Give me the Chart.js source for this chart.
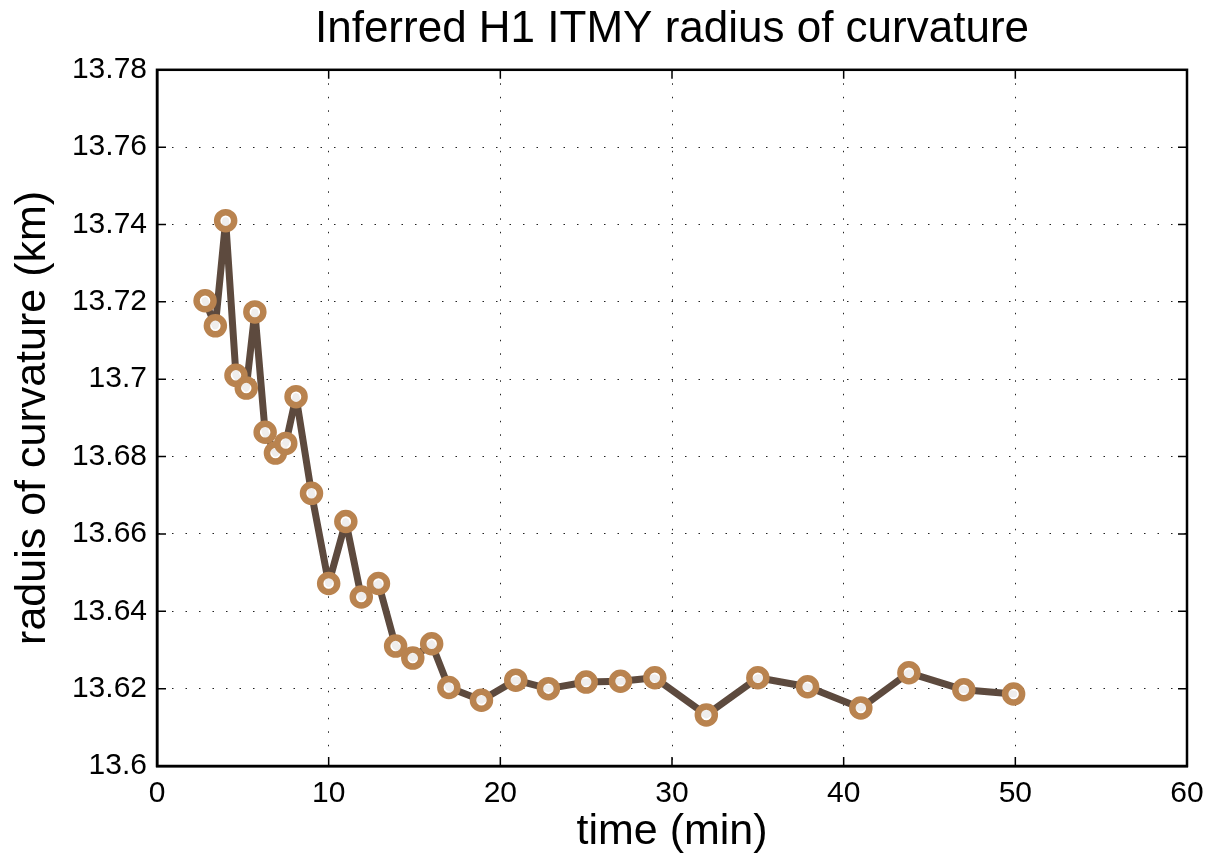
<!DOCTYPE html>
<html>
<head>
<meta charset="utf-8">
<script src="https://cdn.jsdelivr.net/npm/chart.js@4/dist/chart.umd.min.js"></script>
<style>
  html, body { margin: 0; padding: 0; background: #fff; }
  #wrap { width: 1207px; height: 860px; }
</style>
</head>
<body>
<div id="wrap"><canvas id="rocChart" width="1207" height="860"></canvas></div>
<script>
// tiempos (min) y radio de curvatura (km)
const timeMin = [2.8, 3.4, 4.0, 4.6, 5.2, 5.7, 6.3, 6.9, 7.5, 8.1, 9.0,
  10.0, 11.0, 11.9, 12.9, 13.9, 14.9, 16.0, 17.0, 18.9, 20.9, 22.8,
  25.0, 27.0, 29.0, 32.0, 35.0, 37.9, 41.0, 43.8, 47.0, 49.9];
const radiusKm = [13.7203, 13.7138, 13.7410, 13.7010, 13.6977, 13.7174, 13.6863, 13.6809, 13.6834, 13.6955, 13.6705,
  13.6472, 13.6632, 13.6437, 13.6472, 13.6310, 13.6279, 13.6316, 13.6203, 13.6170, 13.6222, 13.6200,
  13.6217, 13.6219, 13.6228, 13.6132, 13.6228, 13.6205, 13.6150, 13.6241, 13.6197, 13.6186];

const xTicks = [0, 10, 20, 30, 40, 50, 60];
const yTicks = [13.6, 13.62, 13.64, 13.66, 13.68, 13.7, 13.72, 13.74, 13.76, 13.78];

const fuente = '"Liberation Sans", Arial, Helvetica, sans-serif';

// marco completo y marcas hacia dentro (estilo matlab)
const marcoPlugin = {
  id: 'marco',
  afterDraw(chart) {
    const { ctx, chartArea: a, scales } = chart;
    ctx.save();
    ctx.strokeStyle = '#000';
    ctx.lineWidth = 1.5;
    const len = 9;
    scales.x.ticks.forEach(t => {
      const px = scales.x.getPixelForValue(t.value);
      ctx.beginPath();
      ctx.moveTo(px, a.bottom); ctx.lineTo(px, a.bottom - len);
      ctx.moveTo(px, a.top); ctx.lineTo(px, a.top + len);
      ctx.stroke();
    });
    scales.y.ticks.forEach(t => {
      const py = scales.y.getPixelForValue(t.value);
      ctx.beginPath();
      ctx.moveTo(a.left, py); ctx.lineTo(a.left + len, py);
      ctx.moveTo(a.right, py); ctx.lineTo(a.right - len, py);
      ctx.stroke();
    });
    ctx.lineWidth = 2.5;
    ctx.strokeRect(a.left, a.top, a.right - a.left, a.bottom - a.top);
    ctx.restore();
  }
};

const ctx = document.getElementById('rocChart').getContext('2d');
const chartRoc = new Chart(ctx, {
  type: 'scatter',
  data: {
    datasets: [{
      label: 'ROC',
      data: timeMin.map((t, i) => ({ x: t, y: radiusKm[i] })),
      showLine: true,
      borderColor: '#5d4a3e',
      borderWidth: 7,
      borderJoinStyle: 'round',
      borderCapStyle: 'round',
      pointRadius: 8.5,
      pointBorderWidth: 6.5,
      pointBorderColor: '#b9834f',
      pointBackgroundColor: 'rgba(255,255,255,0.9)',
      pointHoverRadius: 8.5
    }]
  },
  options: {
    responsive: false,
    animation: false,
    layout: { padding: { left: 0, right: 20, top: 0, bottom: 0 } },
    plugins: {
      legend: { display: false },
      tooltip: { enabled: false },
      title: {
        display: true,
        text: 'Inferred H1 ITMY radius of curvature',
        fullSize: false,
        color: '#000',
        font: { family: fuente, size: 44, weight: 'normal' },
        padding: { top: 3, bottom: 14 }
      }
    },
    scales: {
      x: {
        type: 'linear',
        min: 0,
        max: 60,
        afterBuildTicks: s => { s.ticks = xTicks.map(v => ({ value: v })); },
        afterFit: s => { s.height = 94; s.paddingLeft = 0; s.paddingRight = 0; },
        grid: { color: '#222', lineWidth: 1, drawTicks: false },
        border: { display: true, color: '#000', width: 2.5, dash: [1.5, 12] },
        ticks: { color: '#000', font: { family: fuente, size: 30 }, padding: 10, maxRotation: 0 },
        title: { display: true, text: 'time (min)', color: '#000', font: { family: fuente, size: 43 }, padding: { top: 0, bottom: 2 } }
      },
      y: {
        type: 'linear',
        min: 13.6,
        max: 13.78,
        afterBuildTicks: s => { s.ticks = yTicks.map(v => ({ value: v })); },
        afterFit: s => { s.width = 157; s.paddingTop = 0; s.paddingBottom = 0; },
        grid: { color: '#222', lineWidth: 1, drawTicks: false },
        border: { display: true, color: '#000', width: 2.5, dash: [1.5, 12] },
        ticks: {
          color: '#000',
          font: { family: fuente, size: 30 },
          padding: 10,
          callback: v => String(Number(v.toFixed(2)))
        },
        title: { display: true, text: 'raduis of curvature (km)', color: '#000', font: { family: fuente, size: 43 }, padding: { top: 7, bottom: 0 } }
      }
    }
  },
  plugins: [marcoPlugin]
});
</script>
</body>
</html>
